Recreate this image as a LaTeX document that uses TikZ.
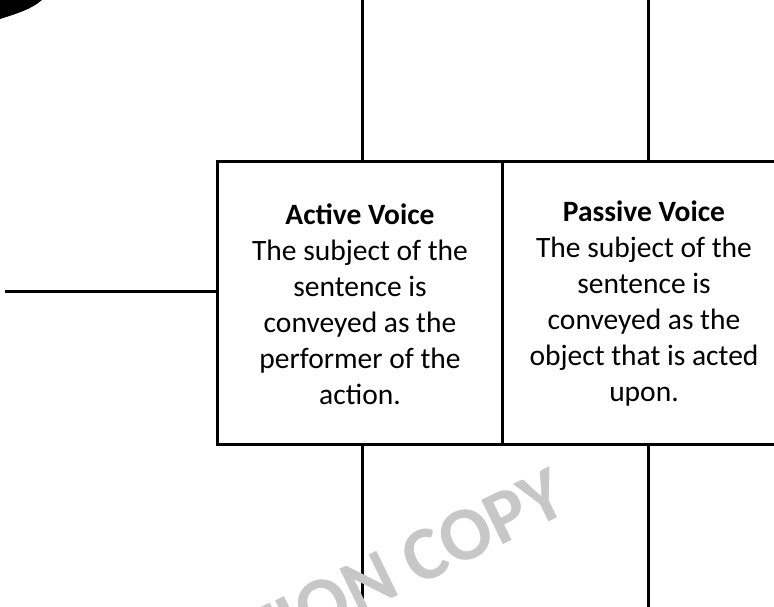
\documentclass[tikz,border=0pt]{standalone}
\usepackage{fontspec}
\setmainfont{Carlito}
\usetikzlibrary{positioning,calc}

\begin{document}
\begin{tikzpicture}[x=1pt, y=-1pt,
    box/.style={draw, line width=3pt, minimum width=285pt, minimum height=282pt, inner sep=0pt, outer sep=0pt},
    txt/.style={align=center, font=\fontsize{29.5}{36}\selectfont},
    wire/.style={line width=3pt},
    stamp/.style={text=black!22, font=\fontsize{76}{76}\selectfont\bfseries, rotate=26}]
  \useasboundingbox (0,0) rectangle (774,607);
  \clip (0,0) rectangle (774,607);
  % the two boxes
  \node[box] (activebox) at (359.5,303) {};
  \node[box, right=0pt of activebox] (passivebox) {};
  \node[txt] (activetxt) at (360,304) {\textbf{Active Voice}\\The subject of the\\sentence is\\conveyed as the\\performer of the\\action.};
  \node[txt] (passivetxt) at (644,304) {\textbf{Passive Voice}\\The subject of the\\sentence is\\conveyed as the\\object that is acted\\upon.};
  % free ends of the lines
  \coordinate (topA) at (362,0);
  \coordinate (topB) at (648,0);
  \coordinate (botA) at (362,607);
  \coordinate (botB) at (648,607);
  \coordinate (lft) at (5,291);
  \draw[wire] (topA) -- (topA |- activebox.north);
  \draw[wire] (topB) -- (topB |- passivebox.north);
  \draw[wire] (botA) -- (botA |- activebox.south);
  \draw[wire] (botB) -- (botB |- passivebox.south);
  \draw[wire] (lft) -- (lft -| activebox.west);
  % watermark over the lines
  \node[stamp, anchor=base east] (wmark) at (574,510) {INSPECTION COPY};
  % corner scrap
  \fill (0,0) -- (42,0) .. controls (32,9) and (16,14) .. (0,19) -- cycle;
\end{tikzpicture}
\end{document}
